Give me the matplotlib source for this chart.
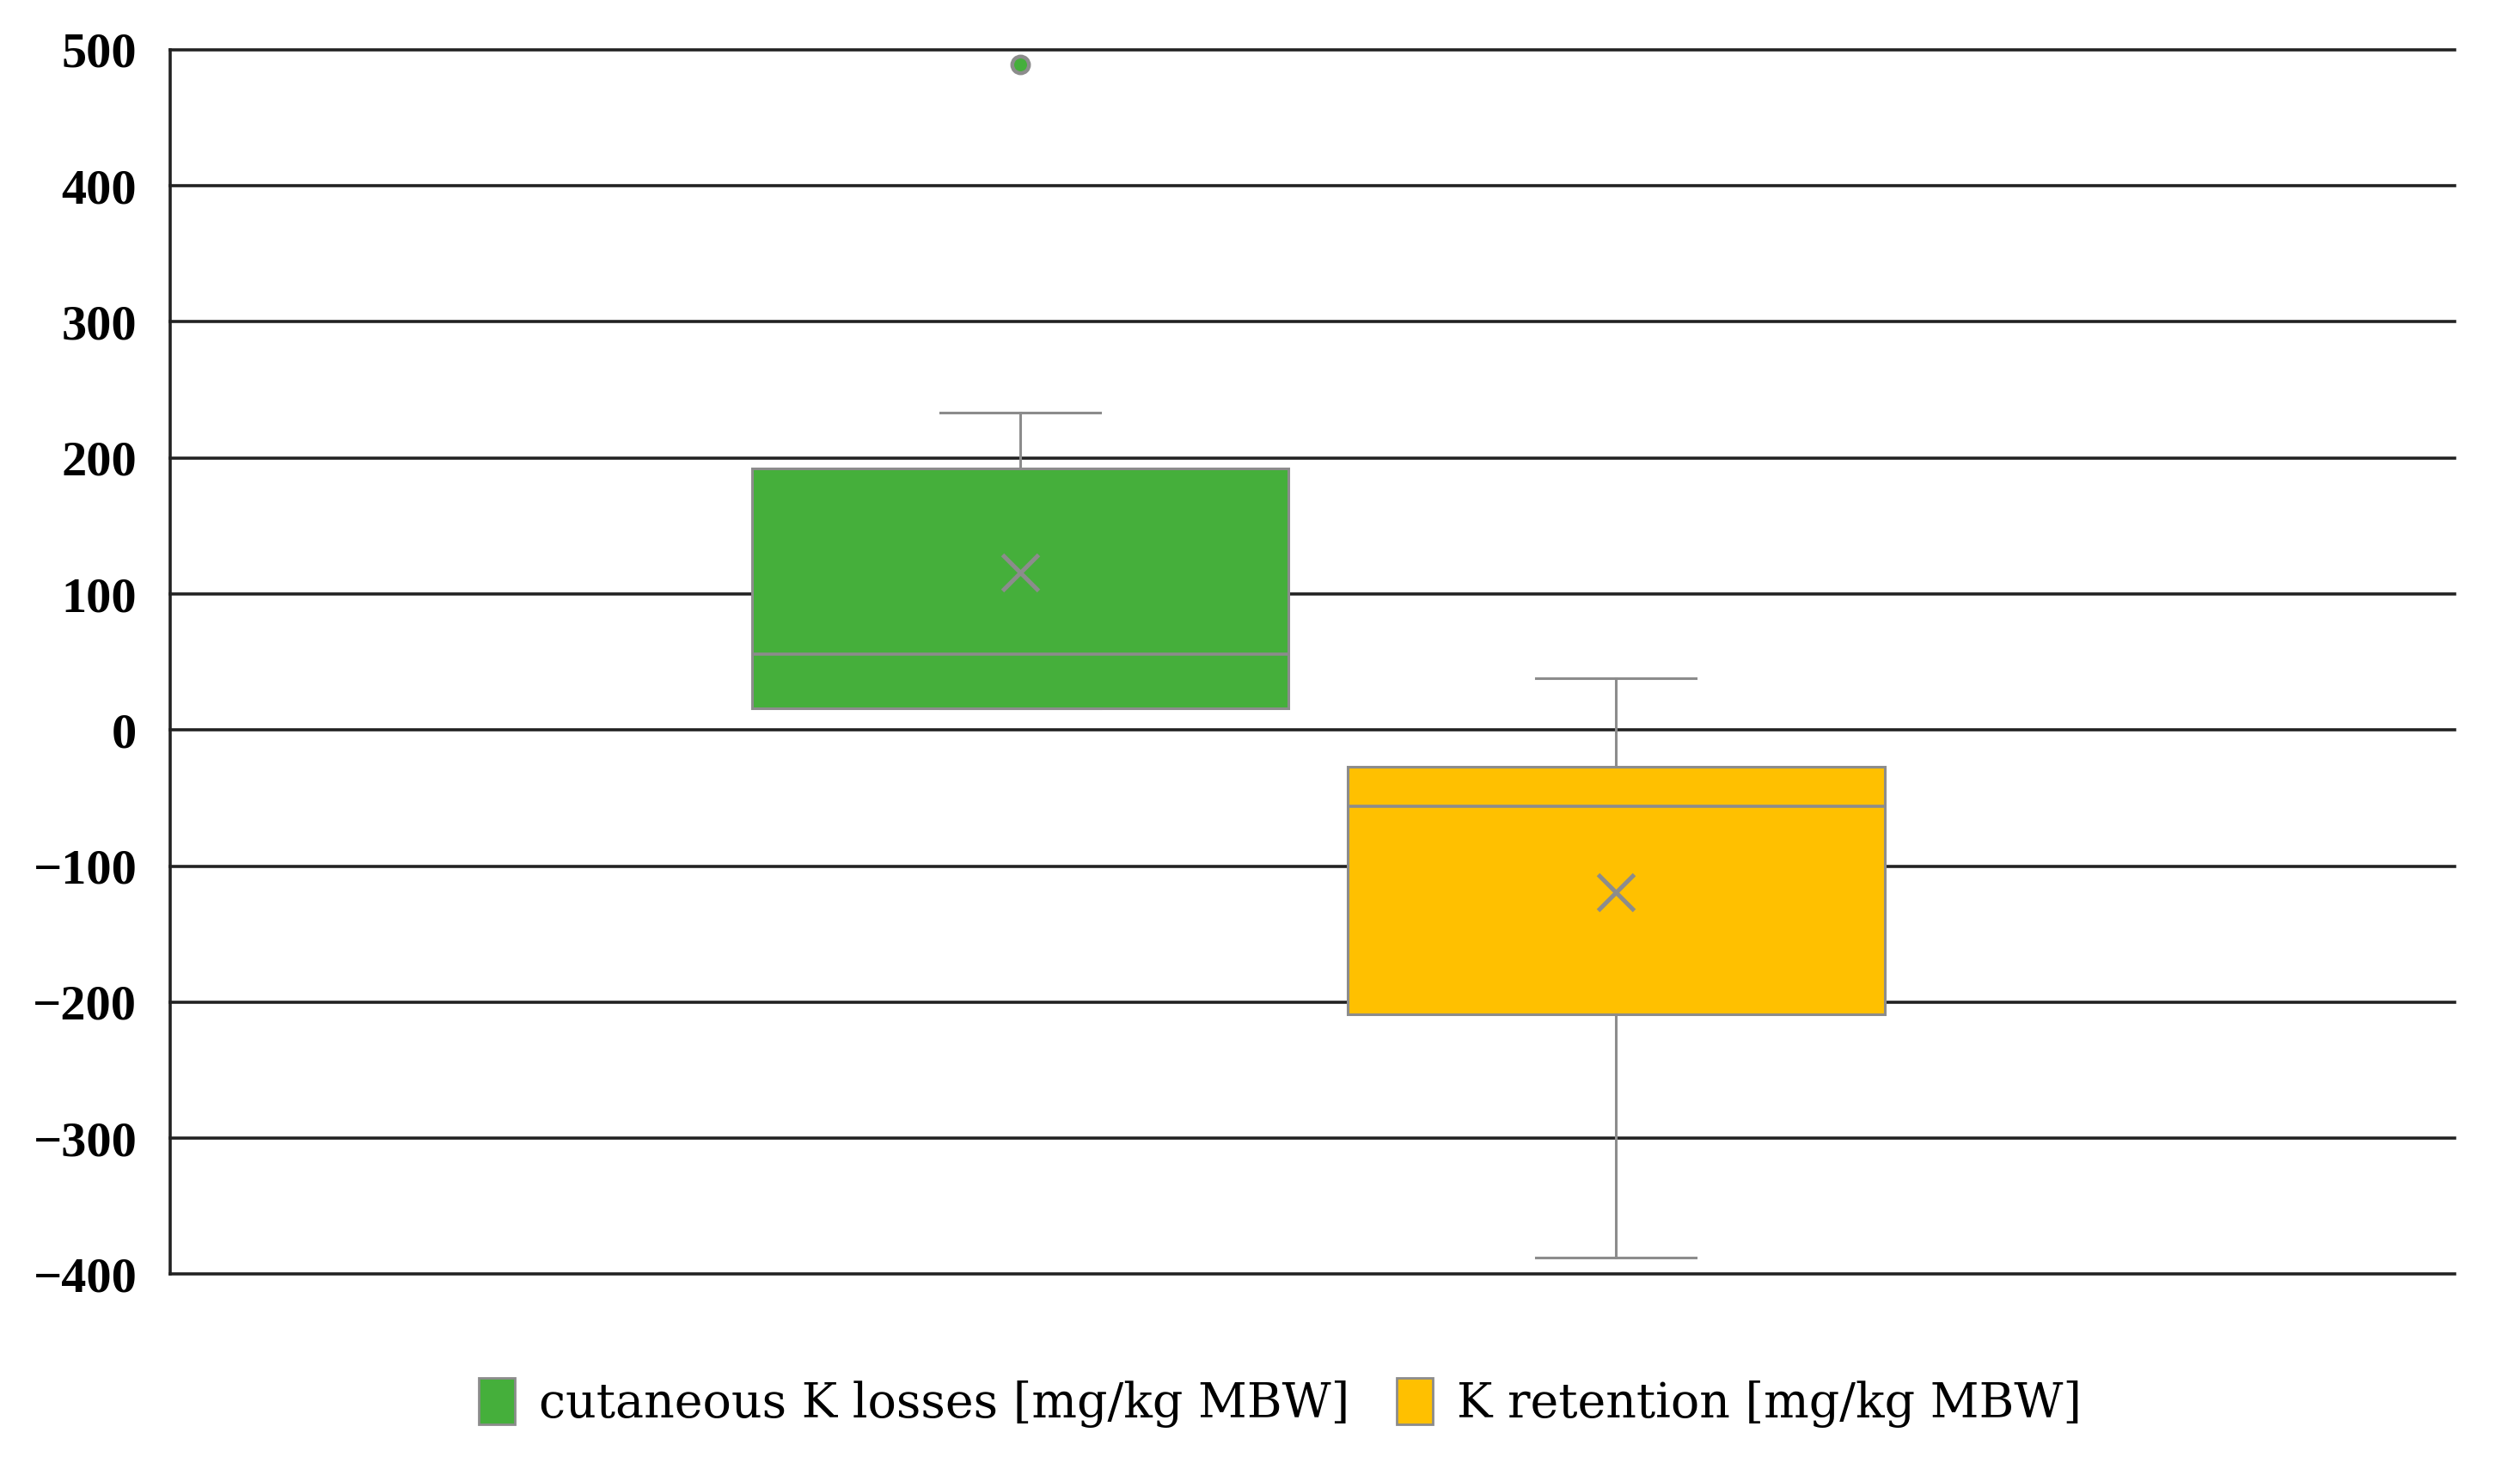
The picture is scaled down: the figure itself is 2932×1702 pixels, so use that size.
import matplotlib.pyplot as plt
import numpy as np
from matplotlib.patches import Patch

# =====================
# Data
# =====================
series = ['cutaneous K losses [mg/kg MBW]', 'K retention [mg/kg MBW]']
colors = ['#45AF3B', '#FFC000']
q1 = [16, -209]
med = [56, -56]
q3 = [192, -27]
whislo = [16, -388]
whishi = [233, 38]
means = [116, -119]
fliers = [[489], []]

yticks = np.arange(-400, 501, 100)

# =====================
# Plot
# =====================
plt.rcParams.update({
    'font.family': 'serif',
    'font.serif': ['Liberation Serif', 'DejaVu Serif'],
    'axes.unicode_minus': True,
})

fig = plt.figure(figsize=(14.66, 8.51), dpi=200)
ax = fig.add_axes([0.0676, 0.129, 0.9064, 0.837])

stats = []
for i in range(len(series)):
    stats.append({'q1': q1[i], 'med': med[i], 'q3': q3[i],
                  'whislo': whislo[i], 'whishi': whishi[i],
                  'mean': means[i], 'fliers': np.array(fliers[i])})

positions = [0.372, 0.633]
gray = '#8C8C8C'
bp = ax.bxp(stats, positions=positions, widths=0.235, patch_artist=True,
            showmeans=True, showfliers=True, manage_ticks=False,
            boxprops=dict(edgecolor=gray, linewidth=1.1),
            medianprops=dict(color=gray, linewidth=1.3),
            whiskerprops=dict(color=gray, linewidth=1.1),
            capprops=dict(color=gray, linewidth=1.1),
            capwidths=0.07,
            meanprops=dict(marker='x', markeredgecolor=gray, markersize=15,
                           markeredgewidth=1.8),
            flierprops=dict(marker='o', markerfacecolor=colors[0],
                            markeredgecolor=gray, markersize=7,
                            markeredgewidth=1.6))
for patch, c in zip(bp['boxes'], colors):
    patch.set_facecolor(c)
for ln in bp['whiskers'] + bp['caps'] + bp['medians']:
    ln.set_zorder(3)
for b in bp['boxes']:
    b.set_zorder(2)

ax.set_xlim(0, 1)
ax.set_ylim(-400, 500)
ax.set_yticks(yticks)
ax.set_xticks([])
ax.tick_params(axis='y', length=0, pad=14, labelsize=21)
for lbl in ax.get_yticklabels():
    lbl.set_fontweight('bold')

ax.grid(True, axis='y', color='#222222', linewidth=1.3, zorder=0)
ax.set_axisbelow(True)
for gl in ax.get_ygridlines():
    gl.set_clip_on(False)
for s in ['top', 'right', 'bottom']:
    ax.spines[s].set_visible(False)
ax.spines['left'].set_color('#222222')
ax.spines['left'].set_linewidth(1.3)

handles = [Patch(facecolor=c, edgecolor=gray, linewidth=1.0) for c in colors]
fig.legend(handles, series, loc='center', bbox_to_anchor=(0.508, 0.041),
           ncol=2, frameon=False, handlelength=0.75, handleheight=1.1,
           handletextpad=0.5, columnspacing=1.0,
           prop={'family': 'DejaVu Serif', 'size': 20})

plt.savefig('out.png', dpi=200)
